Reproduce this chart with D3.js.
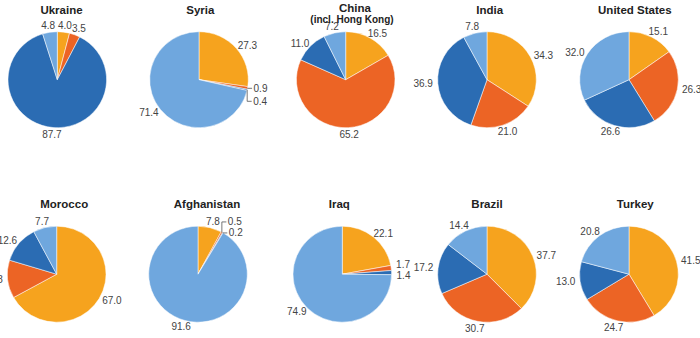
<!DOCTYPE html>
<html>
<head>
<meta charset="utf-8">
<script src="https://cdn.jsdelivr.net/npm/d3@7"></script>
<style>
  html, body { margin: 0; padding: 0; background: #fff; }
  svg { display: block; }
</style>
</head>
<body>
<svg id="chart" width="700" height="338"></svg>
<script>
// ---- data ----
const countries = ["Ukraine", "Syria", "China", "India", "United States",
                   "Morocco", "Afghanistan", "Iraq", "Brazil", "Turkey"];
const subtitles = ["", "", "(incl. Hong Kong)", "", "", "", "", "", "", ""];
const segment1 = [4.0, 27.3, 16.5, 34.3, 15.1, 67.0, 7.8, 22.1, 37.7, 41.5];   // orange
const segment2 = [3.5, 0.9, 65.2, 21.0, 26.3, 12.8, 0.5, 1.7, 30.7, 24.7];     // red-orange
const segment3 = [87.7, 0.4, 11.0, 36.9, 26.6, 12.6, 0.2, 1.4, 17.2, 13.0];    // dark blue
const segment4 = [4.8, 71.4, 7.2, 7.8, 32.0, 7.7, 91.6, 74.9, 14.4, 20.8];     // light blue

// ---- layout / style ----
const colors = ["#F6A31E", "#EC6425", "#2B6CB3", "#6FA7DE"];
const pieX = [57.3, 199, 345.7, 487, 629, 56.7, 198, 342.3, 487, 629];
const rowY = [79.7, 274.2];
const titleX = [61.5, 200.3, 355, 489.7, 634.8, 64.2, 207, 339.3, 487, 635.3];
const RX = 49.3, RY = 48;
const FONT = "'Liberation Sans', Arial, Helvetica, sans-serif";

const svg = d3.select("#chart");
const pieGen = d3.pie().sort(null).value(d => d);
const arcGen = d3.arc().innerRadius(0).outerRadius(RY);
const colorScale = d3.scaleOrdinal().domain([0, 1, 2, 3]).range(colors);

const labelLayer = svg.append("g");
const titleLayer = svg.append("g");

countries.forEach((name, i) => {
  const row = i < 5 ? 0 : 1;
  const cx = pieX[i], cy = rowY[row];
  const values = [segment1[i], segment2[i], segment3[i], segment4[i]];
  const arcs = pieGen(values);

  const g = svg.insert("g", ":first-child")
    .attr("transform", `translate(${cx},${cy}) scale(${RX / RY},1)`);
  g.selectAll("path").data(arcs).join("path")
    .attr("d", arcGen)
    .attr("fill", (d, k) => colorScale(k))
    .attr("stroke", "#fff")
    .attr("stroke-width", 0.5);

  // labels
  const labels = arcs.map((d, k) => {
    const a = (d.startAngle + d.endAngle) / 2;
    const s = Math.sin(a), c = Math.cos(a);
    const t = labelLayer.append("text")
      .attr("font-family", FONT)
      .attr("font-size", 10)
      .attr("fill", "#444")
      .attr("dy", "0.35em")
      .text(d.data.toFixed(1));
    const w = t.node().getComputedTextLength();
    const x = cx + (RX + 5 + w / 2) * s;
    const y = cy - (RY + 2) * c - 5 * c * c * c;
    return { t, w, x, y, y0: y, s, c, v: d.data, a };
  });

  // resolve overlaps
  for (let it = 0; it < 6; it++) {
    for (let p = 0; p < labels.length; p++) {
      for (let q = p + 1; q < labels.length; q++) {
        const A = labels[p], B = labels[q];
        const overlapX = Math.abs(A.x - B.x) < (A.w + B.w) / 2;
        const dy = Math.abs(A.y - B.y);
        if (overlapX && dy < 11) {
          const firstUp = (A.s >= 0) ? A.a < B.a : A.a > B.a;
          const up = firstUp ? A : B, down = firstUp ? B : A;
          if (up.y0 > cy && down.y0 > cy) {
            // lower half: keep the upper label, push the next one down
            down.y = up.y + 13;
          } else {
            const mid = (A.y + B.y) / 2;
            up.y = mid - 5.5;
            down.y = mid + 5.5;
          }
        }
      }
    }
  }

  labels.forEach(L => {
    if (L.v < 1) {
      const ex = cx + RX * L.s, ey = cy - RY * L.c;
      const side = L.s >= 0 ? 1 : -1;
      let near = L.x - side * L.w / 2;
      if (side > 0) near = Math.max(near, ex + 6); else near = Math.min(near, ex - 6);
      L.x = near + side * L.w / 2;
      labelLayer.append("path")
        .attr("d", `M${ex},${ey}V${L.y}H${near - side * 1.5}`)
        .attr("fill", "none")
        .attr("stroke", "#555")
        .attr("stroke-width", 0.8);
    }
    L.t.attr("x", L.x - L.w / 2).attr("y", L.y);
  });

  // titles
  const hasSub = subtitles[i] !== "";
  const baseY = row === 0 ? 13.5 : 208.3;
  titleLayer.append("text")
    .attr("x", titleX[i])
    .attr("y", hasSub ? baseY - 1.5 : baseY)
    .attr("text-anchor", "middle")
    .attr("font-family", FONT)
    .attr("font-size", 11.5)
    .attr("font-weight", "bold")
    .attr("fill", "#222")
    .text(name);
  if (hasSub) {
    titleLayer.append("text")
      .attr("x", titleX[i] - 3)
      .attr("y", baseY + 9.5)
      .attr("text-anchor", "middle")
      .attr("font-family", FONT)
      .attr("font-size", 10)
      .attr("font-weight", "bold")
      .attr("fill", "#222")
      .text(subtitles[i]);
  }
});
</script>
</body>
</html>
